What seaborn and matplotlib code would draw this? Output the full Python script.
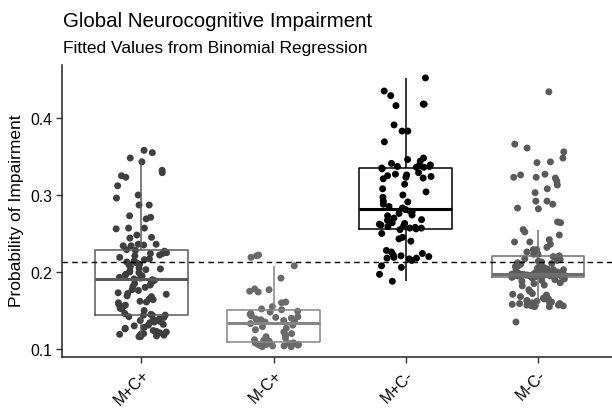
import numpy as np
import pandas as pd
import matplotlib
matplotlib.use("Agg")
import matplotlib.pyplot as plt
import seaborn as sns

categories = ["M+C+", "M-C+", "M+C-", "M-C-"]

mcp_cp = [0.358, 0.355, 0.348, 0.343, 0.332, 0.329, 0.325, 0.323, 0.312, 0.300,
          0.296, 0.287, 0.287, 0.273, 0.271, 0.269, 0.256, 0.257, 0.257, 0.248,
          0.244, 0.245, 0.236, 0.234, 0.235, 0.236, 0.234,
          0.229, 0.228, 0.227, 0.225, 0.224, 0.224, 0.222, 0.221, 0.219, 0.217,
          0.216, 0.214, 0.213, 0.212, 0.210, 0.209, 0.207, 0.205, 0.204, 0.203,
          0.201, 0.200, 0.199, 0.197, 0.196, 0.195, 0.193, 0.192, 0.191, 0.190,
          0.189, 0.187, 0.186, 0.185, 0.183, 0.181, 0.180, 0.177, 0.176, 0.173,
          0.172, 0.171, 0.169, 0.168, 0.165, 0.164, 0.162, 0.161, 0.160, 0.158,
          0.157, 0.155, 0.153, 0.152, 0.150, 0.146, 0.144,
          0.145, 0.144, 0.144, 0.142, 0.141, 0.139, 0.138, 0.137, 0.136, 0.135,
          0.134, 0.132, 0.131, 0.130, 0.128, 0.127, 0.126, 0.124, 0.123, 0.122,
          0.121, 0.120, 0.119, 0.119, 0.118, 0.117, 0.116, 0.116]

mcm_cp = [0.222, 0.221, 0.219, 0.208, 0.192, 0.178, 0.177, 0.175, 0.174, 0.161,
          0.160, 0.155, 0.152, 0.151,
          0.149, 0.148, 0.146, 0.145, 0.143, 0.142, 0.141, 0.140, 0.139, 0.138,
          0.137, 0.136, 0.135,
          0.133, 0.131, 0.129, 0.127, 0.125, 0.122, 0.120, 0.118, 0.116, 0.114,
          0.112, 0.111, 0.110,
          0.108, 0.108, 0.107, 0.107, 0.106, 0.106, 0.106, 0.105, 0.105, 0.105,
          0.104, 0.104, 0.103, 0.103]

mcp_cm = [0.452, 0.435, 0.429, 0.418, 0.418, 0.416, 0.391, 0.383, 0.383, 0.369,
          0.348, 0.346, 0.344, 0.341, 0.339, 0.338, 0.337, 0.337, 0.336, 0.336,
          0.335, 0.334, 0.329, 0.327, 0.326, 0.325, 0.324, 0.323, 0.322, 0.321,
          0.314, 0.308, 0.304, 0.300, 0.297, 0.292, 0.291, 0.288, 0.285, 0.283,
          0.281, 0.279, 0.278, 0.276, 0.274, 0.273, 0.270, 0.268, 0.267, 0.265,
          0.264, 0.263, 0.262, 0.261, 0.260, 0.259, 0.258, 0.257, 0.257, 0.256,
          0.255, 0.250, 0.245, 0.243, 0.240, 0.228, 0.226, 0.224, 0.222, 0.221,
          0.220, 0.219, 0.218, 0.218, 0.217, 0.215, 0.208, 0.206, 0.197, 0.188]

mcm_cm = [0.434, 0.366, 0.361, 0.356, 0.348, 0.342, 0.343, 0.327, 0.323, 0.318,
          0.326, 0.322, 0.323, 0.313, 0.308, 0.303, 0.292, 0.292, 0.288, 0.283,
          0.282, 0.265, 0.264, 0.255, 0.252, 0.248, 0.239, 0.239, 0.242, 0.229,
          0.236, 0.229, 0.223, 0.223, 0.226, 0.221, 0.232, 0.220,
          0.218, 0.217, 0.216, 0.215, 0.214, 0.213, 0.212, 0.211, 0.210, 0.209,
          0.208, 0.207, 0.206, 0.205, 0.204, 0.203, 0.203, 0.202, 0.202, 0.201,
          0.201, 0.200, 0.200, 0.200, 0.199, 0.199, 0.199, 0.198, 0.198, 0.198,
          0.198, 0.197, 0.197, 0.197, 0.197, 0.197, 0.197,
          0.197, 0.197, 0.196, 0.196, 0.196, 0.196, 0.196, 0.196, 0.196, 0.196,
          0.196, 0.196, 0.196, 0.196, 0.196, 0.196, 0.196, 0.196, 0.196, 0.196,
          0.195, 0.195, 0.195, 0.195, 0.195, 0.195, 0.195, 0.195, 0.195, 0.195,
          0.195, 0.195, 0.195, 0.195, 0.195,
          0.194, 0.193, 0.192, 0.191, 0.190, 0.189, 0.188, 0.186, 0.185, 0.183,
          0.182, 0.177, 0.175, 0.172, 0.171, 0.170, 0.168, 0.166, 0.165, 0.165,
          0.163, 0.162, 0.161, 0.160, 0.159, 0.158, 0.158, 0.157, 0.157, 0.156,
          0.156, 0.155, 0.155, 0.157, 0.159, 0.160, 0.162, 0.135]

overall_mean = 0.2127

point_colors = ["#3f3f3f", "#6a6a6a", "#000000", "#5a5a5a"]
box_colors = ["#5a5a5a", "#858585", "#000000", "#6e6e6e"]

groups = [mcp_cp, mcm_cp, mcp_cm, mcm_cm]
df = pd.DataFrame({
    "group": np.concatenate([[c] * len(v) for c, v in zip(categories, groups)]),
    "value": np.concatenate(groups),
})

sns.set_theme(style="white")
plt.rcParams["font.family"] = ["Liberation Sans", "DejaVu Sans"]

fig = plt.figure(figsize=(6.12, 4.10), dpi=100)
ax = fig.add_axes([62 / 612, 52 / 410, 550 / 612, 292 / 410])

np.random.seed(3)
sns.stripplot(data=df, x="group", y="value", hue="group", order=categories,
              hue_order=categories, palette=point_colors, jitter=0.2, size=5.0,
              linewidth=0, legend=False, ax=ax, zorder=2)
sns.boxplot(data=df, x="group", y="value", hue="group", order=categories,
            hue_order=categories, palette=box_colors, fill=False, width=0.7,
            showfliers=False, showcaps=False, linewidth=1.1, legend=False,
            ax=ax, medianprops={"linewidth": 2.2}, whis=1.5)
ax.axhline(overall_mean, color="black", lw=1.0, ls=(0, (4, 3)), zorder=5)

ax.set_xlim(-0.6, 3.56)
ax.set_ylim(0.0896, 0.4688)
ax.set_yticks([0.1, 0.2, 0.3, 0.4])
ax.set_yticklabels(["0.1", "0.2", "0.3", "0.4"])
ax.set_xticks(range(len(categories)))
ax.set_xticklabels(categories, rotation=45, ha="right", va="top",
                   rotation_mode="anchor")
ax.set_xlabel("")
ax.set_ylabel("")
for s in ["top", "right"]:
    ax.spines[s].set_visible(False)
for s in ["left", "bottom"]:
    ax.spines[s].set_color("#222222")
    ax.spines[s].set_linewidth(1.1)
ax.tick_params(axis="both", which="both", length=4, width=1, color="#333333",
               labelsize=11.3, labelcolor="black", pad=3,
               bottom=True, left=True)

fig.text(17 / 612, 1 - 211 / 410, "Probability of Impairment", rotation=90,
         ha="center", va="center", fontsize=12.5, color="black")
fig.text(63 / 612, 1 - 27 / 410, "Global Neurocognitive Impairment",
         ha="left", va="baseline", fontsize=14.8, color="black")
fig.text(63 / 612, 1 - 53 / 410, "Fitted Values from Binomial Regression",
         ha="left", va="baseline", fontsize=12.5, color="black")

fig.savefig("out.png", dpi=100, facecolor="white")
